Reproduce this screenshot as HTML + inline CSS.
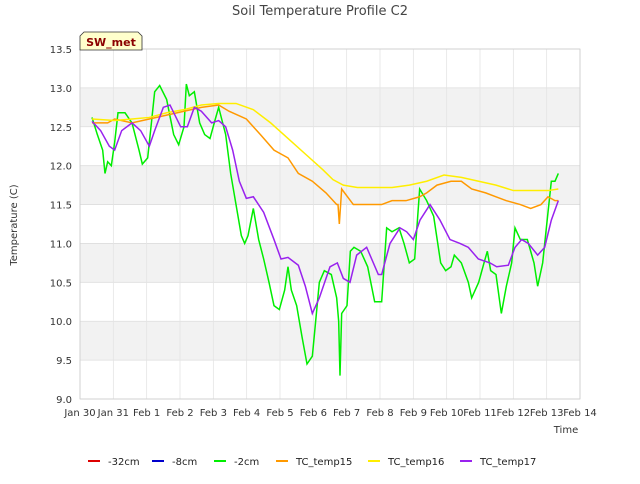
<!DOCTYPE html>
<html><head><meta charset="utf-8"><style>
body{margin:0;background:#fff;font-family:"DejaVu Sans","Liberation Sans",sans-serif}
svg text{font-family:"DejaVu Sans","Liberation Sans",sans-serif}
</style></head><body>
<svg id="chart" width="640" height="480" xmlns="http://www.w3.org/2000/svg">
<text x="320" y="15" text-anchor="middle" font-size="13" fill="#444">Soil Temperature Profile C2</text>
<g id="bands"></g><g id="grid"></g><g id="series"></g><g id="axes"></g><g id="legend"></g>
<text transform="translate(17,225) rotate(-90)" text-anchor="middle" font-size="10" fill="#333">Temperature (C)</text>
<text x="566" y="433" text-anchor="middle" font-size="10" fill="#333">Time</text>
<g><path d="M80,50 L80,36 L84,32 L138,32 L142,36 L142,50 Z" fill="#ffffcc" stroke="#333" stroke-width="0.8"/><text x="111" y="46" text-anchor="middle" font-size="11" font-weight="bold" fill="#8b0000">SW_met</text></g>
</svg>
<script>
const xTickLabels=["Jan 30","Jan 31","Feb 1","Feb 2","Feb 3","Feb 4","Feb 5","Feb 6","Feb 7","Feb 8","Feb 9","Feb 10","Feb 11","Feb 12","Feb 13","Feb 14"];
const yTicks=[9.0,9.5,10.0,10.5,11.0,11.5,12.0,12.5,13.0,13.5];
const seriesNames=["-32cm","-8cm","-2cm","TC_temp15","TC_temp16","TC_temp17"];
const seriesColors=["#dd0000","#0000cc","#00ee00","#ff9900","#ffee00","#9922ee"];
const s32cm=[];
const s8cm=[];
const s2cm=[[0.36,12.62],[0.52,12.4],[0.68,12.2],[0.75,11.9],[0.83,12.05],[0.94,12.0],[1.04,12.3],[1.14,12.68],[1.35,12.68],[1.56,12.55],[1.77,12.2],[1.87,12.02],[2.03,12.1],[2.13,12.5],[2.24,12.95],[2.39,13.03],[2.6,12.85],[2.81,12.4],[2.96,12.27],[3.12,12.5],[3.19,13.05],[3.28,12.9],[3.43,12.95],[3.59,12.55],[3.74,12.4],[3.9,12.35],[4.06,12.6],[4.16,12.75],[4.37,12.4],[4.52,11.9],[4.68,11.5],[4.84,11.1],[4.94,11.0],[5.04,11.1],[5.2,11.45],[5.36,11.05],[5.51,10.8],[5.67,10.5],[5.82,10.2],[5.98,10.15],[6.14,10.4],[6.24,10.7],[6.34,10.4],[6.5,10.2],[6.66,9.8],[6.81,9.45],[6.97,9.55],[7.07,10.0],[7.18,10.5],[7.33,10.65],[7.54,10.6],[7.7,10.3],[7.76,10.0],[7.8,9.3],[7.85,10.1],[8.01,10.2],[8.11,10.9],[8.22,10.95],[8.42,10.9],[8.63,10.7],[8.84,10.25],[9.05,10.25],[9.2,11.2],[9.36,11.15],[9.57,11.2],[9.72,11.0],[9.88,10.75],[10.04,10.8],[10.19,11.7],[10.4,11.55],[10.61,11.35],[10.82,10.75],[10.97,10.65],[11.13,10.7],[11.23,10.85],[11.44,10.75],[11.65,10.5],[11.75,10.3],[11.96,10.5],[12.12,10.75],[12.22,10.9],[12.32,10.65],[12.48,10.6],[12.64,10.1],[12.79,10.45],[12.95,10.75],[13.05,11.2],[13.21,11.05],[13.42,11.05],[13.62,10.75],[13.73,10.45],[13.88,10.75],[14.04,11.4],[14.14,11.8],[14.25,11.8],[14.35,11.9]];
const sTC15=[[0.36,12.55],[0.83,12.55],[1.04,12.6],[1.56,12.55],[2.08,12.6],[2.6,12.65],[3.12,12.7],[3.64,12.75],[4.16,12.78],[4.47,12.7],[4.99,12.6],[5.41,12.4],[5.82,12.2],[6.24,12.1],[6.55,11.9],[6.97,11.8],[7.38,11.65],[7.7,11.5],[7.74,11.5],[7.78,11.25],[7.85,11.7],[8.2,11.5],[8.63,11.5],[9.05,11.5],[9.36,11.55],[9.78,11.55],[10.19,11.6],[10.4,11.65],[10.71,11.75],[11.13,11.8],[11.44,11.8],[11.75,11.7],[12.17,11.65],[12.48,11.6],[12.79,11.55],[13.21,11.5],[13.52,11.45],[13.83,11.5],[14.04,11.6],[14.25,11.55],[14.35,11.55]];
const sTC16=[[0.36,12.6],[1.04,12.58],[1.56,12.6],[2.08,12.62],[2.6,12.68],[3.12,12.72],[3.64,12.78],[4.16,12.8],[4.68,12.8],[5.2,12.72],[5.72,12.55],[6.24,12.35],[6.76,12.15],[7.28,11.95],[7.59,11.82],[7.9,11.75],[8.32,11.72],[9.36,11.72],[9.88,11.75],[10.4,11.8],[10.92,11.88],[11.44,11.85],[11.96,11.8],[12.48,11.75],[13.0,11.68],[13.52,11.68],[14.04,11.68],[14.35,11.7]];
const sTC17=[[0.36,12.57],[0.62,12.45],[0.88,12.25],[1.04,12.2],[1.25,12.45],[1.56,12.55],[1.82,12.45],[2.08,12.25],[2.24,12.45],[2.5,12.75],[2.7,12.78],[3.02,12.5],[3.22,12.5],[3.43,12.75],[3.64,12.7],[3.95,12.55],[4.16,12.58],[4.37,12.5],[4.58,12.2],[4.78,11.8],[4.99,11.58],[5.2,11.6],[5.51,11.4],[5.82,11.05],[6.03,10.8],[6.24,10.82],[6.55,10.72],[6.76,10.45],[6.97,10.1],[7.18,10.3],[7.5,10.7],[7.72,10.75],[7.9,10.55],[8.1,10.5],[8.3,10.85],[8.6,10.95],[8.95,10.6],[9.05,10.6],[9.3,11.0],[9.6,11.2],[9.8,11.15],[10.0,11.05],[10.2,11.3],[10.5,11.5],[10.8,11.3],[11.1,11.05],[11.4,11.0],[11.65,10.95],[11.95,10.8],[12.3,10.75],[12.5,10.7],[12.85,10.72],[13.05,10.95],[13.25,11.05],[13.45,11.0],[13.73,10.85],[13.94,10.95],[14.14,11.3],[14.35,11.55]];
const allSeries=[s32cm,s8cm,s2cm,sTC15,sTC16,sTC17];
const L=80,R=580,T=49,B=399,ymin=9,ymax=13.5,dmax=15;
const X=d=>L+(R-L)*d/dmax, Y=v=>B-(B-T)*(v-ymin)/(ymax-ymin);
const NS="http://www.w3.org/2000/svg";
function mk(tag,parent,attrs){const e=document.createElementNS(NS,tag);for(const k in attrs)e.setAttribute(k,attrs[k]);document.getElementById(parent).appendChild(e);return e;}
for(let i=0;i<yTicks.length-1;i++){if(i%2===1){const r=mk('rect','bands',{x:L,y:Y(yTicks[i+1]),width:R-L,height:Y(yTicks[i])-Y(yTicks[i+1]),fill:'#f2f2f2'});

}}
yTicks.forEach(v=>{const g=mk('line','grid',{x1:L,x2:R,y1:Y(v),y2:Y(v),stroke:'#ddd','stroke-width':0.8});


const t=mk('text','axes',{x:L-8,y:Y(v)+4,'text-anchor':'end','font-size':10,fill:'#333'});t.textContent=v.toFixed(1);

});
xTickLabels.forEach((s,i)=>{const g=mk('line','grid',{x1:X(i),x2:X(i),y1:T,y2:B,stroke:'#e4e4e4','stroke-width':0.8});


const t=mk('text','axes',{x:X(i),y:B+17,'text-anchor':'middle','font-size':10,fill:'#333'});t.textContent=s;

});
const fr=mk('rect','axes',{x:L,y:T,width:R-L,height:B-T,fill:'none',stroke:'#ccc','stroke-width':0.8});


allSeries.forEach((s,i)=>{if(!s.length)return;const p=mk('polyline','series',{points:s.map(d=>X(d[0])+','+Y(d[1])).join(' '),fill:'none',stroke:seriesColors[i],'stroke-width':1.5});

});
const lx=[88,152,214,276,368,460];
seriesNames.forEach((n,i)=>{const l=mk('line','legend',{x1:lx[i],x2:lx[i]+12,y1:461,y2:461,stroke:seriesColors[i],'stroke-width':2});


const t=mk('text','legend',{x:lx[i]+20,y:465,'font-size':10,fill:'#222'});t.textContent=n;

});
</script>
</body></html>
